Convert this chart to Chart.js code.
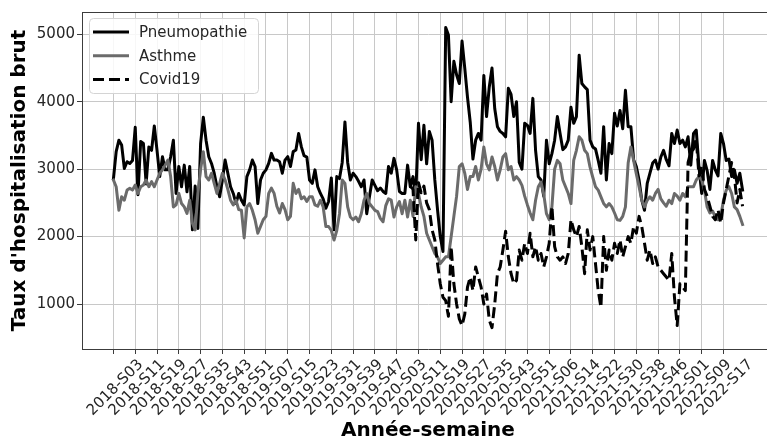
<!DOCTYPE html>
<html>
<head>
<meta charset="utf-8">
<script src="https://cdn.jsdelivr.net/npm/chart.js@4.4.1/dist/chart.umd.min.js"></script>
<style>
  html, body { margin: 0; padding: 0; background: #fff; overflow: hidden; width: 767px; height: 441px; }
  canvas { display: block; }
</style>
</head>
<body>
<canvas id="hospChart" width="776" height="441"></canvas>
<script>
// weeks: 2018-S03 .. 2022-S24 (first week, last week per year)
const yearWeeks = [[2018, 3, 52], [2019, 1, 52], [2020, 1, 53], [2021, 1, 53], [2022, 1, 24]];
const weeks = [];
yearWeeks.forEach(([y, first, last]) => {
    for (let w = first; w <= last; w++) weeks.push(y + '-S' + String(w).padStart(2, '0'));
});
const TICK_STEP = 8;

const pneumopathie = [
    2860, 3260, 3430, 3360, 3010, 3110, 3085, 3130, 3620, 2620,
    3410, 3380, 2780, 3330, 3280, 3640, 3280, 2890, 3185, 2990,
    2990, 3185, 3430, 2640, 3040, 2740, 3060, 2665, 3040, 2100,
    2750, 2120, 3380, 3770, 3430, 3185, 3085, 2940, 2740, 2590,
    2840, 3135, 2940, 2740, 2640, 2490, 2640, 2540, 2470, 2890,
    2990, 3135, 3040, 2490, 2840, 2940, 2990, 3085, 3235, 3135,
    3135, 3110, 2940, 3135, 3185, 3040, 3260, 3285, 3530, 3330,
    3200, 3180, 2840, 2790, 2990, 2740, 2640, 2560, 2420, 2520,
    2870, 2100, 2890, 2860, 3100, 3700, 3100, 2840, 2940, 2890,
    2820, 2740, 2840, 2340, 2590, 2840, 2760, 2680, 2720, 2670,
    2640, 3040, 2940, 3160, 2990, 2670, 2640, 2640, 3060, 2740,
    2890, 2600, 3680, 3140, 3650, 3080, 3560, 3430, 2840, 2400,
    2000, 1780, 5100, 4990, 4000, 4600, 4400, 4270, 4900, 4500,
    4070, 3700, 3150, 3430, 3530, 3430, 4390, 3780, 4220, 4500,
    3900, 3630, 3560, 3530, 3480, 4200, 4110, 3780, 4000, 3100,
    3000, 3680, 3650, 3530, 4050, 3280, 2890, 2840, 2600, 3430,
    3080, 3230, 3430, 3780, 3530, 3290, 3330, 3430, 3920, 3680,
    3780, 4690, 4270, 4220, 4180, 3430, 3330, 3300, 3130, 2940,
    3630, 2840, 3380, 3230, 3830, 3640, 3870, 3600, 4170, 3630,
    3630, 3140, 3040, 2840, 2540, 2390, 2790, 2940, 3090, 3135,
    3000, 3180, 3280, 3140, 3050, 3530, 3380, 3580, 3380, 3430,
    3330, 3480, 3060, 3530, 3580, 3030, 2640, 3130, 2980, 2700,
    3130, 2990, 2900, 3530, 3380, 3130, 3150, 2890, 2990, 2790,
    2940, 2690
];

const asthme = [
    2840, 2740, 2390, 2590, 2540, 2690, 2715, 2690, 2765, 2640,
    2740, 2765, 2840, 2740, 2815, 2740, 2840, 2940, 2990, 3060,
    3135, 2890, 2440, 2470, 2640, 2490, 2440, 2345, 2540, 2200,
    2100, 2640, 3000, 3260, 2890, 2840, 2940, 2790, 2640, 2790,
    2940, 2840, 2700, 2540, 2470, 2540, 2400, 2390, 1980, 2440,
    2490, 2390, 2250, 2050, 2150, 2250, 2300, 2640, 2720, 2640,
    2450, 2350, 2490, 2400, 2250, 2300, 2790, 2640, 2700, 2560,
    2590, 2520, 2590, 2590, 2470, 2450, 2540, 2440, 2150, 2150,
    2090, 1950, 2090, 2340, 2840, 2790, 2440, 2290, 2250, 2290,
    2220, 2340, 2540, 2640, 2490, 2440, 2390, 2370, 2270, 2220,
    2460, 2560, 2540, 2290, 2440, 2520, 2340, 2540, 2290, 2540,
    2300, 2740, 2640, 2440, 2300, 2050, 1950, 1850, 1750, 1700,
    1600, 1650, 1700, 1700, 2000, 2300, 2600, 3040, 3080, 2940,
    2700, 2890, 2890, 3040, 2840, 3000, 3330, 3080, 2990, 3180,
    3040, 2840, 2990, 3180, 3230, 2990, 3040, 2840, 2890, 2840,
    2760, 2600, 2470, 2350, 2250, 2540, 2740, 2810, 2630, 2340,
    2250, 2440, 3000, 3130, 3080, 2840, 2740, 2640, 2490, 3130,
    3280, 3480, 3430, 3280, 3230, 3030, 2880, 2740, 2690, 2590,
    2490, 2440, 2490, 2440, 2350, 2250, 2240, 2300, 2440, 3090,
    3330, 3130, 2930, 2740, 2540, 2440, 2540, 2590, 2540, 2640,
    2700, 2560, 2500, 2450, 2540, 2490, 2640, 2600, 2540, 2640,
    2590, 2740, 2740, 2740, 2840, 2890, 2840, 2690, 2440, 2350,
    2380, 2290, 2250, 2300, 2540, 2690, 2740, 2640, 2440, 2400,
    2300, 2180
];

// Covid19 starts later in the series
const covidStart = '2020-S08';
const covid19 = [
    2750,
    2700, 1950, 2800, 2650, 2750, 2500, 2400, 2100, 1950, 1600,
    1300, 1100, 1050, 820, 1850, 1300, 1000, 780, 680, 850,
    1250, 1400, 1200, 1550, 1400, 1250, 1000, 1150, 760, 650,
    1000, 1450, 1550, 1800, 2080, 1700, 1450, 1300, 1350, 1800,
    1650, 1900, 1750, 2050, 1700, 1850, 1650, 1750, 1550, 1700,
    1900, 2450, 1850, 1700, 1650, 1700, 1600, 1750, 2250, 2100,
    2000, 2150, 1850, 1450, 2100, 1800, 2000, 1600, 1200, 950,
    2000, 1500, 1800, 1650, 1900, 1750, 1950, 1700, 1850, 2000,
    1900, 2150, 2050, 2300, 2150, 1900, 1650, 1800, 1600, 1700,
    1550, 1500, 1450, 1400, 1350, 1750, 1100, 680, 1300, 1250,
    1200, 3100, 3250, 3300, 3450, 2900, 3050, 2700, 2600, 2450,
    2300, 2250, 2400, 2200, 2500, 2700, 2900, 3100, 2900, 2500,
    2700, 2450
];

const yTicks = [1000, 2000, 3000, 4000, 5000];

const FONT = "'DejaVu Sans', sans-serif";
const TEXT = '#262626';
const SPINE = '#3c3c3c';

const toPoints = (arr, start) => arr.map((v, i) => ({x: start + i, y: v}));
const covidIdx = weeks.indexOf(covidStart);

// draws the rotated week labels centred on their ticks, top spine and framed legend
const decorations = {
    id: 'decorations',
    afterDatasetsDraw(chart) {
        const ctx = chart.ctx;
        const area = chart.chartArea;
        const xs = chart.scales.x;

        ctx.save();
        ctx.strokeStyle = SPINE;
        ctx.lineWidth = 1;
        ctx.beginPath();
        ctx.moveTo(area.left, Math.round(area.top) + 0.5);
        ctx.lineTo(area.right, Math.round(area.top) + 0.5);
        ctx.stroke();

        ctx.font = '15px ' + FONT;
        ctx.fillStyle = TEXT;
        ctx.textAlign = 'right';
        ctx.textBaseline = 'top';
        xs.ticks.forEach(t => {
            const px = xs.getPixelForValue(t.value);
            ctx.save();
            ctx.translate(px + 22, area.bottom + 8);
            ctx.rotate(-Math.PI / 4);
            ctx.fillText(weeks[t.value], 0, 0);
            ctx.restore();
        });

        // legend
        const bx = area.left + 7, by = area.top + 6, bw = 169, bh = 75;
        ctx.beginPath();
        ctx.roundRect(bx + 0.5, by + 0.5, bw, bh, 4);
        ctx.fillStyle = 'rgba(255,255,255,0.85)';
        ctx.fill();
        ctx.strokeStyle = '#d4d4d4';
        ctx.stroke();

        ctx.textAlign = 'left';
        ctx.textBaseline = 'middle';
        chart.data.datasets.forEach((ds, i) => {
            const y = by + 14 + i * 23.7;
            ctx.beginPath();
            ctx.strokeStyle = ds.borderColor;
            ctx.lineWidth = ds.borderWidth;
            ctx.setLineDash(ds.borderDash || []);
            ctx.lineCap = 'butt';
            ctx.moveTo(bx + 4, y);
            ctx.lineTo(bx + 40, y);
            ctx.stroke();
            ctx.setLineDash([]);
            ctx.fillStyle = TEXT;
            ctx.fillText(ds.label, bx + 50, y + 1);
        });
        ctx.restore();
    }
};

new Chart(document.getElementById('hospChart'), {
    type: 'line',
    data: {
        datasets: [{
            label: 'Pneumopathie',
            data: toPoints(pneumopathie, 0),
            borderColor: '#000000',
            borderWidth: 3,
            borderJoinStyle: 'round',
            borderCapStyle: 'square',
            order: 3
        }, {
            label: 'Asthme',
            data: toPoints(asthme, 0),
            borderColor: '#6b6b6b',
            borderWidth: 3,
            borderJoinStyle: 'round',
            borderCapStyle: 'square',
            order: 2
        }, {
            label: 'Covid19',
            data: toPoints(covid19, covidIdx),
            borderColor: '#000000',
            borderWidth: 3,
            borderDash: [11, 5],
            borderJoinStyle: 'round',
            borderCapStyle: 'butt',
            order: 1
        }]
    },
    options: {
        responsive: false,
        animation: false,
        devicePixelRatio: 1,
        layout: {padding: {top: 12, right: 2, left: 0, bottom: 0}},
        elements: {point: {radius: 0}, line: {tension: 0, fill: false}},
        plugins: {legend: {display: false}, tooltip: {enabled: false}},
        events: [],
        scales: {
            x: {
                type: 'linear',
                min: -11.55,
                max: weeks.length - 1 + 11.55,
                afterBuildTicks: s => {
                    s.ticks = weeks.map((w, i) => i).filter(i => i % TICK_STEP === 0).map(v => ({value: v}));
                },
                afterFit: s => { s.height = 92; },
                ticks: {display: false},
                grid: {color: '#c8c8c8', lineWidth: 1, tickLength: 5, tickColor: SPINE, drawTicks: true},
                border: {color: SPINE, width: 1},
                title: {
                    display: true,
                    text: 'Année-semaine',
                    color: '#000',
                    font: {family: FONT, size: 20, weight: 'bold', lineHeight: 1},
                    padding: {top: 0, bottom: 0}
                }
            },
            y: {
                min: 333,
                max: 5331,
                afterBuildTicks: s => { s.ticks = yTicks.map(v => ({value: v})); },
                afterFit: s => { s.width = 82; },
                ticks: {
                    color: TEXT,
                    font: {family: FONT, size: 15},
                    padding: 2,
                    callback: v => String(v)
                },
                grid: {color: '#c8c8c8', lineWidth: 1, tickLength: 5, tickColor: SPINE, drawTicks: true},
                border: {color: SPINE, width: 1},
                title: {
                    display: true,
                    text: "Taux d'hospitalisation brut",
                    color: '#000',
                    font: {family: FONT, size: 20, weight: 'bold', lineHeight: 1},
                    padding: {top: 10, bottom: 0}
                }
            }
        }
    },
    plugins: [decorations]
});
</script>
</body>
</html>
